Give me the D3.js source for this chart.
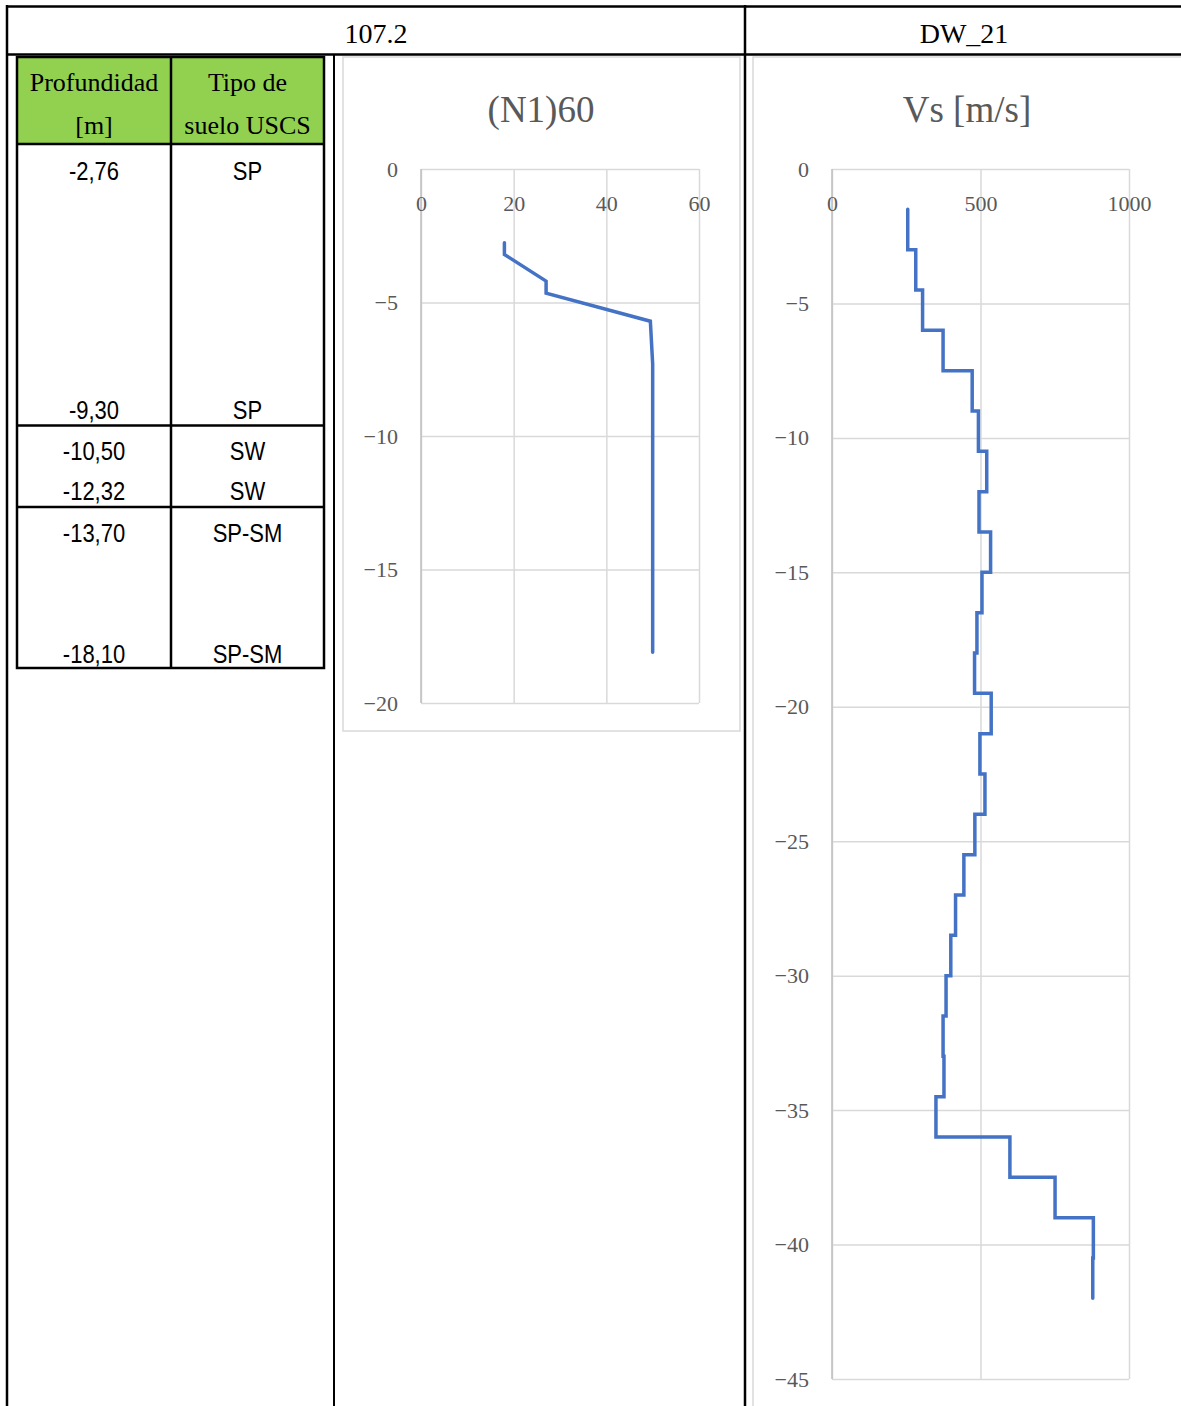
<!DOCTYPE html>
<html>
<head>
<meta charset="utf-8">
<script src="https://cdn.jsdelivr.net/npm/d3@7"></script>
<style>
  body { margin: 0; background: #fff; }
  text { font-family: "Liberation Serif", "Times New Roman", serif; }
</style>
</head>
<body>
<script>
// header texts
const headerLeft = "107.2";
const headerRight = "DW_21";

// soil table
const tableHead1 = ["Profundidad", "[m]"];
const tableHead2 = ["Tipo de", "suelo USCS"];
const depthLabels = ["-2,76", "-9,30", "-10,50", "-12,32", "-13,70", "-18,10"];
const soilLabels = ["SP", "SP", "SW", "SW", "SP-SM", "SP-SM"];

// (N1)60 profile
const n1Title = "(N1)60";
const n1Depth = [-2.76, -3.2, -4.2, -4.65, -5.7, -7.3, -18.1];
const n1Value = [18, 18, 27, 27, 49.5, 50, 50];
const n1XTicks = [0, 20, 40, 60];
const n1YTicks = [0, -5, -10, -15, -20];

// Vs profile (layer boundaries and velocity of each layer)
const vsTitle = "Vs [m/s]";
const vsBounds = [-1.5, -3, -4.5, -6, -7.5, -9, -10.5, -12, -13.5, -15, -16.5, -18, -19.5,
  -21, -22.5, -24, -25.5, -27, -28.5, -30, -31.5, -33, -34.5, -36, -37.5, -39, -40.5, -42];
const vsValue = [255, 282, 305, 374, 472, 493, 521, 495, 534, 505, 488, 480, 536,
  498, 515, 481, 444, 416, 400, 384, 374, 377, 350, 599, 751, 880, 878];
const vsXTicks = [0, 500, 1000];
const vsYTicks = [0, -5, -10, -15, -20, -25, -30, -35, -40, -45];

const W = 1181, H = 1406;
const svg = d3.select("body").append("svg")
  .attr("width", W).attr("height", H);

// ---- outer frame ----
const frame = svg.append("g").attr("stroke", "#000").attr("fill", "none");
frame.append("line").attr("x1", 6).attr("x2", W + 2).attr("y1", 6.5).attr("y2", 6.5).attr("stroke-width", 2.5);
frame.append("line").attr("x1", 7).attr("x2", 7).attr("y1", 5).attr("y2", H + 2).attr("stroke-width", 2.5);
frame.append("line").attr("x1", 6).attr("x2", W + 2).attr("y1", 54.5).attr("y2", 54.5).attr("stroke-width", 2.5);
frame.append("line").attr("x1", 745).attr("x2", 745).attr("y1", 5).attr("y2", H + 2).attr("stroke-width", 2.5);
frame.append("line").attr("x1", 334).attr("x2", 334).attr("y1", 54).attr("y2", H + 2).attr("stroke-width", 2);

svg.append("text").attr("x", 376).attr("y", 43).attr("text-anchor", "middle")
  .attr("font-size", 28).text(headerLeft);
svg.append("text").attr("x", 964).attr("y", 43).attr("text-anchor", "middle")
  .attr("font-size", 28).text(headerRight);

// ---- soil table ----
const tbl = {x0: 17, x1: 324, xm: 171, y0: 57, yh: 144, y1: 668};
const rowBase = [180, 419, 460, 500, 542, 663];
const rowLines = [425.5, 507];

svg.append("rect").attr("x", tbl.x0).attr("y", tbl.y0)
  .attr("width", tbl.x1 - tbl.x0).attr("height", tbl.yh - tbl.y0)
  .attr("fill", "#92D050");
const tg = svg.append("g").attr("stroke", "#000").attr("stroke-width", 2.5).attr("fill", "none");
tg.append("rect").attr("x", tbl.x0).attr("y", tbl.y0)
  .attr("width", tbl.x1 - tbl.x0).attr("height", tbl.y1 - tbl.y0);
tg.append("line").attr("x1", tbl.x0).attr("x2", tbl.x1).attr("y1", tbl.yh).attr("y2", tbl.yh);
tg.selectAll(".rl").data(rowLines).enter().append("line")
  .attr("x1", tbl.x0).attr("x2", tbl.x1).attr("y1", d => d).attr("y2", d => d);
tg.append("line").attr("x1", tbl.xm).attr("x2", tbl.xm).attr("y1", tbl.y0).attr("y2", tbl.y1);

const c1 = (tbl.x0 + tbl.xm) / 2, c2 = (tbl.xm + tbl.x1) / 2;
[[tableHead1, c1], [tableHead2, c2]].forEach(([lines, cx]) => {
  lines.forEach((t, i) => {
    svg.append("text").attr("x", cx).attr("y", 91 + i * 43)
      .attr("text-anchor", "middle").attr("font-size", 26).text(t);
  });
});

function cellText(t, cx, y) {
  svg.append("text")
    .attr("transform", `translate(${cx},${y}) scale(0.88,1)`)
    .attr("text-anchor", "middle")
    .style("font-family", "'Liberation Sans', Arial, sans-serif")
    .attr("font-size", 25)
    .text(t);
}
depthLabels.forEach((t, i) => cellText(t, c1, rowBase[i]));
soilLabels.forEach((t, i) => cellText(t, c2, rowBase[i]));

// ---- profile charts ----
function drawChart(o) {
  const g = svg.append("g");
  g.append("rect").attr("x", o.frame[0]).attr("y", o.frame[1])
    .attr("width", o.frame[2]).attr("height", o.frame[3])
    .attr("fill", "#fff").attr("stroke", "#d9d9d9").attr("stroke-width", 1.5);

  const x = d3.scaleLinear().domain(o.xDomain).range([o.px, o.px + o.pw]);
  const y = d3.scaleLinear().domain(o.yDomain).range([o.py, o.py + o.ph]);

  // gridlines
  g.append("g").attr("transform", `translate(0,${o.py})`)
    .call(d3.axisTop(x).tickValues(o.xTicks).tickSize(-o.ph).tickFormat(""))
    .call(a => a.select(".domain").remove())
    .call(a => a.selectAll("line").attr("stroke", "#d9d9d9").attr("stroke-width", 1.5));
  g.append("g").attr("transform", `translate(${o.px},0)`)
    .call(d3.axisLeft(y).tickValues(o.yTicks).tickSize(-o.pw).tickFormat(""))
    .call(a => a.select(".domain").remove())
    .call(a => a.selectAll("line").attr("stroke", "#d9d9d9").attr("stroke-width", 1.5));
  g.append("line").attr("x1", x(0)).attr("x2", x(0))
    .attr("y1", o.py).attr("y2", o.py + o.ph)
    .attr("stroke", "#bfbfbf").attr("stroke-width", 1.5);

  // tick labels
  g.append("g").attr("transform", `translate(0,${o.py})`)
    .call(d3.axisBottom(x).tickValues(o.xTicks).tickSize(0).tickPadding(26).tickFormat(d3.format("d")))
    .call(a => a.select(".domain").remove())
    .call(a => a.selectAll("text").attr("fill", "#595959")
      .attr("font-size", 22).attr("font-family", "'Liberation Serif', serif"));
  g.append("g").attr("transform", `translate(${o.px},0)`)
    .call(d3.axisLeft(y).tickValues(o.yTicks).tickSize(0).tickPadding(23))
    .call(a => a.select(".domain").remove())
    .call(a => a.selectAll("text").attr("fill", "#595959")
      .attr("font-size", 22).attr("font-family", "'Liberation Serif', serif"));

  g.append("text").attr("x", o.tx).attr("y", 122).attr("text-anchor", "middle")
    .attr("font-size", 37).attr("fill", "#595959").text(o.title);

  const line = d3.line().x(d => x(d[0])).y(d => y(d[1]));
  g.append("path").datum(o.points)
    .attr("fill", "none").attr("stroke", "#4472C4").attr("stroke-width", 3.5)
    .attr("stroke-linejoin", "miter").attr("stroke-linecap", "round")
    .attr("d", line);
}

const n1Points = n1Value.map((v, i) => [v, n1Depth[i]]);
const vsPoints = [];
vsValue.forEach((v, i) => {
  vsPoints.push([v, vsBounds[i]]);
  vsPoints.push([v, vsBounds[i + 1]]);
});

drawChart({
  frame: [343, 57, 397, 674], px: 421, py: 169, pw: 278, ph: 534,
  xDomain: [0, 60], yDomain: [0, -20], xTicks: n1XTicks, yTicks: n1YTicks,
  title: n1Title, tx: 541, points: n1Points
});
drawChart({
  frame: [753, 57, 450, 1380], px: 832, py: 169, pw: 297, ph: 1210,
  xDomain: [0, 1000], yDomain: [0, -45], xTicks: vsXTicks, yTicks: vsYTicks,
  title: vsTitle, tx: 967, points: vsPoints
});
</script>
</body>
</html>
